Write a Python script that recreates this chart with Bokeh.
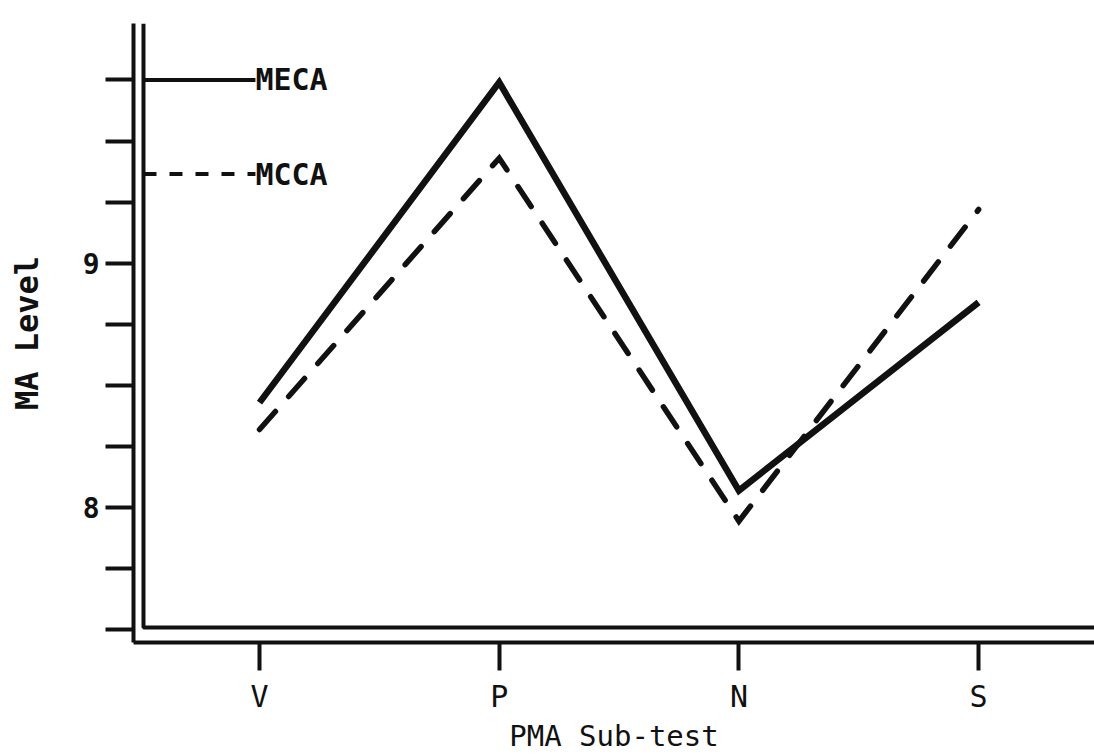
from bokeh.plotting import figure
from bokeh.models import Range1d, LinearAxis, FixedTicker
from bokeh.embed import file_html
from bokeh.resources import INLINE
from bokeh.core.properties import value

# ---- data ----
subtests = ["V", "P", "N", "S"]
x_pos = [1, 2, 3, 4]
meca = [8.43, 9.74, 8.07, 8.84]
mcca = [8.32, 9.43, 7.945, 9.22]
y_ticks = [7.5, 7.75, 8.0, 8.25, 8.5, 8.75, 9.0, 9.25, 9.5, 9.75]
y_tick_labels = ["", "", "8", "", "", "", "9", "", "", ""]
legend_names = ["MECA", "MCCA"]
legend_levels = [9.75, 9.365]

# ---- layout constants ----
X0, X1 = 0.4743, 4.4835
Y0, Y1 = 7.4485, 9.981
X_INNER = 0.516
Y_INNER = 7.51
X_LEG_END = 0.983
INK = "#111111"
FONT = "DejaVu Sans Mono"

p = figure(width=1094, height=755, output_backend="svg", toolbar_location=None,
           x_range=Range1d(X0, X1), y_range=Range1d(Y0, Y1),
           min_border_left=133, min_border_right=0, min_border_top=23,
           min_border_bottom=112, x_axis_location=None, y_axis_location=None)
p.outline_line_color = None
p.grid.visible = False
p.background_fill_color = "white"
p.border_fill_color = "white"

yaxis = LinearAxis(ticker=FixedTicker(ticks=y_ticks),
                   major_label_overrides=dict(zip(y_ticks, y_tick_labels)),
                   axis_label="MA Level")
yaxis.axis_line_width = 4
yaxis.axis_line_color = INK
yaxis.major_tick_line_width = 4
yaxis.major_tick_line_color = INK
yaxis.major_tick_out = 28
yaxis.major_tick_in = 0
yaxis.minor_tick_line_color = None
yaxis.major_label_standoff = 6
yaxis.major_label_text_font = FONT
yaxis.major_label_text_font_size = "28px"
yaxis.major_label_text_font_style = "bold"
yaxis.major_label_text_color = INK
yaxis.axis_label_text_font = FONT
yaxis.axis_label_text_font_size = "32px"
yaxis.axis_label_text_font_style = "bold"
yaxis.axis_label_text_color = INK
yaxis.axis_label_standoff = 34
p.add_layout(yaxis, "left")

xaxis = LinearAxis(ticker=FixedTicker(ticks=x_pos),
                   major_label_overrides=dict(zip(x_pos, subtests)),
                   axis_label="PMA Sub-test")
xaxis.axis_line_width = 4
xaxis.axis_line_color = INK
xaxis.major_tick_line_width = 4
xaxis.major_tick_line_color = INK
xaxis.major_tick_out = 28
xaxis.major_tick_in = 0
xaxis.minor_tick_line_color = None
xaxis.major_label_standoff = 8
xaxis.major_label_text_font = FONT
xaxis.major_label_text_font_size = "30px"
xaxis.major_label_text_color = INK
xaxis.axis_label_text_font = FONT
xaxis.axis_label_text_font_size = "29px"
xaxis.axis_label_text_font_style = "normal"
xaxis.axis_label_text_color = INK
xaxis.axis_label_standoff = 2
p.add_layout(xaxis, "below")

# inner frame lines (double-rule look)
p.line([X_INNER, X_INNER, X1], [Y1, Y_INNER, Y_INNER], line_width=4, color=INK)

# series
p.line(x_pos, meca, line_width=6.5, color=INK, line_join="miter")
p.line(x_pos, mcca, line_width=5.5, color=INK, line_dash="24 20",
       line_join="miter", line_cap="round")

# legend keys drawn from the axis
p.segment(x0=[X_INNER], y0=[legend_levels[0]], x1=[X_LEG_END], y1=[legend_levels[0]],
          line_width=4, color=INK)
p.segment(x0=[X_INNER], y0=[legend_levels[1]], x1=[X_LEG_END], y1=[legend_levels[1]],
          line_width=4, color=INK, line_dash="13 13")
p.text(x=[X_LEG_END, X_LEG_END], y=legend_levels, text=legend_names,
       text_baseline="middle", text_align="left", text_color=INK,
       text_font=value(FONT), text_font_style="bold", text_font_size="30px")

open("out.html", "w").write(file_html(p, INLINE))
